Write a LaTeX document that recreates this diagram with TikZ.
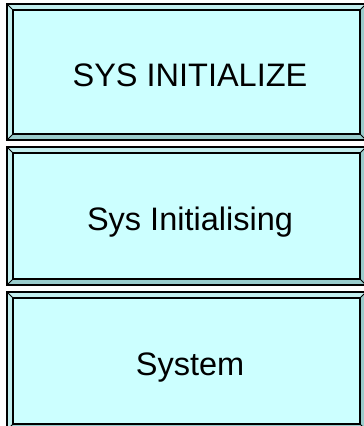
\documentclass[tikz,border=0pt]{standalone}
\usepackage{fontspec}
\setmainfont{Liberation Sans}
\definecolor{facec}{HTML}{CCFFFF}
\definecolor{lightbev}{HTML}{C2EEEE}
\definecolor{darkbev}{HTML}{99CCCC}
\tikzset{
  facefill/.style={fill=facec},
  lightside/.style={fill=lightbev},
  darkside/.style={fill=darkbev},
  outerline/.style={draw=black,line width=1.6pt},
  innerline/.style={draw=black,line width=1.3pt},
  cornerline/.style={draw=black,line width=1pt},
  lbl/.style={anchor=base,inner sep=0pt,font=\fontsize{32.5}{38}\selectfont}
}
\begin{document}
\begin{tikzpicture}[x=1pt,y=-1pt]
\useasboundingbox (0,0) rectangle (364,426);
\clip (0,0) rectangle (364,426);
\fill[white] (0,0) rectangle (364,426);
\foreach \t/\b/\txt/\nm in {4/140/SYS INITIALIZE/a,147/285/Sys Initialising/b,292/430/System/c}{
  \fill[facefill] (13,\t+6) rectangle (360,\b-6);
  \fill[lightside] (7,\t) -- (366,\t) -- (360,\t+6) -- (13,\t+6) -- cycle;
  \fill[lightside] (7,\t) -- (13,\t+6) -- (13,\b-6) -- (7,\b) -- cycle;
  \fill[darkside] (7,\b) -- (13,\b-6) -- (360,\b-6) -- (366,\b) -- cycle;
  \fill[darkside] (366,\t) -- (360,\t+6) -- (360,\b-6) -- (366,\b) -- cycle;
  \draw[outerline] (7,\t) rectangle (366,\b);
  \draw[innerline] (13,\t+6) rectangle (360,\b-6);
  \draw[cornerline] (7,\t) -- (13,\t+6) (366,\t) -- (360,\t+6) (7,\b) -- (13,\b-6) (366,\b) -- (360,\b-6);
  \node[lbl] (\nm) at (190,{(\t+\b)/2+14.5}) {\txt};
}
\end{tikzpicture}
\end{document}
